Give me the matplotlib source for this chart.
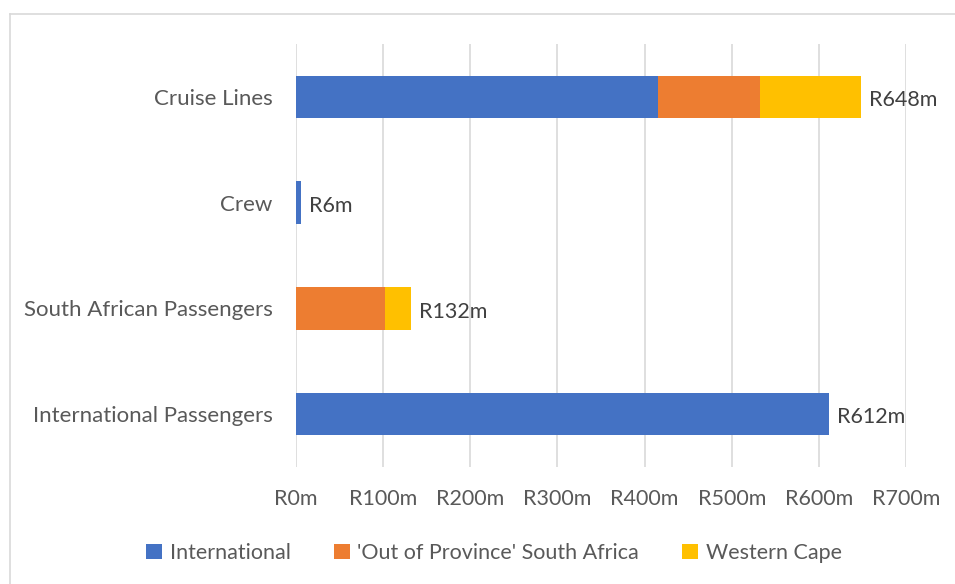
import matplotlib.pyplot as plt
from matplotlib.lines import Line2D

# Spend by visitor group, split by where the money comes from (R millions)
categories = ["International Passengers", "South African Passengers", "Crew", "Cruise Lines"]
international = [612, 0, 6, 415]
out_of_province = [0, 102, 0, 117]
western_cape = [0, 30, 0, 116]
totals = [612, 132, 6, 648]

colors = ["#4472C4", "#ED7D31", "#FFC000"]
text_color = "#595959"

plt.rcParams["font.family"] = ["Lato", "DejaVu Sans"]

fig = plt.figure(figsize=(9.55, 5.84), dpi=100)
ax = fig.add_axes([296 / 955, 1 - 467 / 584, 610 / 955, 423 / 584])

y = list(range(len(categories)))
left2 = [a for a in international]
left3 = [a + b for a, b in zip(international, out_of_province)]

ax.barh(y, international, height=0.4, color=colors[0], label="International", zorder=3)
ax.barh(y, out_of_province, left=left2, height=0.4, color=colors[1],
        label="'Out of Province' South Africa", zorder=3)
ax.barh(y, western_cape, left=left3, height=0.4, color=colors[2],
        label="Western Cape", zorder=3)

for yi, t in zip(y, totals):
    ax.text(t + 9, yi - 0.03, f"R{t}m", va="center", ha="left", fontsize=15.5, color="#404040")

ax.set_xlim(0, 700)
ax.set_ylim(-0.5, 3.5)
ax.set_xticks(range(0, 701, 100))
ax.set_xticklabels([f"R{v}m" for v in range(0, 701, 100)])
ax.set_yticks(y)
ax.set_yticklabels(categories)
ax.tick_params(axis="both", length=0, labelsize=15.5, labelcolor=text_color)
ax.tick_params(axis="y", labelsize=16)
ax.tick_params(axis="x", pad=16)
ax.tick_params(axis="y", pad=17)
ax.grid(axis="x", color="#D9D9D9", linewidth=1.2, zorder=0)
for s in ax.spines.values():
    s.set_visible(False)

fig.legend(*ax.get_legend_handles_labels(), loc="center",
           bbox_to_anchor=(494 / 955, 1 - 553 / 584), ncol=3, frameon=False,
           fontsize=15.5, labelcolor=text_color, handlelength=0.75, handleheight=0.75,
           handletextpad=0.35, columnspacing=2.0)

# chart frame, only left and top edges fall inside the canvas
fig.add_artist(Line2D([10 / 955, 10 / 955], [0, 1 - 14 / 584], transform=fig.transFigure,
                      color="#D9D9D9", linewidth=1.2))
fig.add_artist(Line2D([10 / 955, 1], [1 - 14 / 584, 1 - 14 / 584], transform=fig.transFigure,
                      color="#D9D9D9", linewidth=1.2))

fig.savefig("out.png", dpi=100)
